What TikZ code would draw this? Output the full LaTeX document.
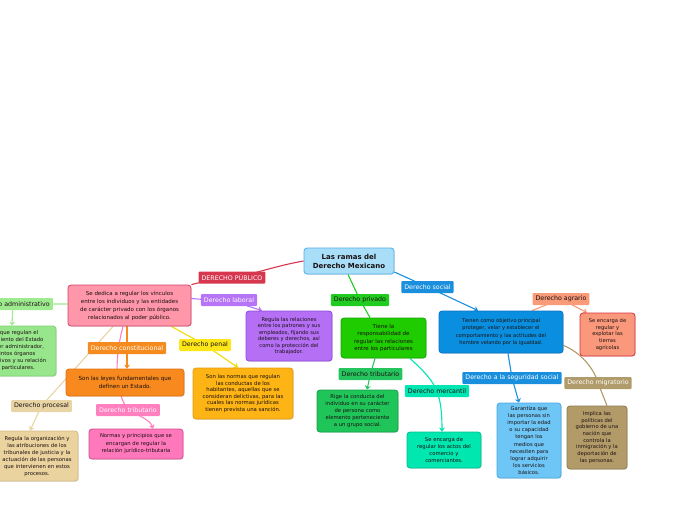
\documentclass[tikz,border=0pt]{standalone}
\usepackage{fontspec}
\setmainfont{DejaVu Sans}
\usetikzlibrary{arrows.meta,shadows}
\pgfdeclarelayer{bg}
\pgfsetlayers{bg,main}
\definecolor{rootf}{HTML}{A9DEF9}\definecolor{rootd}{HTML}{4FAEEA}
\definecolor{pubc}{HTML}{D7364F}
\definecolor{pinkf}{HTML}{FF96A9}\definecolor{pinkd}{HTML}{D2456A}
\definecolor{purc}{HTML}{B774F7}\definecolor{purf}{HTML}{B46FF5}\definecolor{purd}{HTML}{8F4BD6}
\definecolor{yelc}{HTML}{FFE619}\definecolor{yell}{HTML}{F2DC00}\definecolor{penf}{HTML}{FDB414}\definecolor{pend}{HTML}{E49C10}
\definecolor{orac}{HTML}{F58B1F}\definecolor{oraf}{HTML}{F7891F}\definecolor{orad}{HTML}{E07010}
\definecolor{hpc}{HTML}{FF7FBF}\definecolor{hpf}{HTML}{FF78BC}\definecolor{hpd}{HTML}{D04C8E}
\definecolor{admc}{HTML}{9EEA8F}\definecolor{admf}{HTML}{98E68C}\definecolor{admd}{HTML}{7ED072}
\definecolor{proc}{HTML}{E8D4A4}\definecolor{prof}{HTML}{EBD39F}\definecolor{prod}{HTML}{D4BA85}
\definecolor{prc}{HTML}{1FCC1F}\definecolor{prf}{HTML}{1FCC00}\definecolor{prd}{HTML}{19A800}
\definecolor{tgc}{HTML}{26C45E}\definecolor{tgf}{HTML}{20C55A}\definecolor{tgd}{HTML}{17A048}
\definecolor{mec}{HTML}{00E6B2}\definecolor{mef}{HTML}{00E8B0}\definecolor{med}{HTML}{00C090}
\definecolor{soc}{HTML}{1A8FDE}\definecolor{sof}{HTML}{0A8FE0}\definecolor{sod}{HTML}{0A70C0}
\definecolor{agc}{HTML}{F99A78}\definecolor{agf}{HTML}{F9987B}\definecolor{agd}{HTML}{D8333F}
\definecolor{sgf}{HTML}{6EC6F6}\definecolor{sgd}{HTML}{4AA8E0}
\definecolor{mic}{HTML}{B09B6A}\definecolor{mif}{HTML}{B39B69}\definecolor{mid}{HTML}{8E7A4E}
\definecolor{txt}{HTML}{1A1010}
\tikzset{
  box/.style={rectangle,rounded corners=3pt,line width=0.8pt,align=center,text=txt,
    font=\fontsize{5.3}{7}\selectfont,inner sep=1pt,
    drop shadow={shadow xshift=0.8pt,shadow yshift=-0.8pt,opacity=0.2}},
  lbl/.style={rectangle,rounded corners=1pt,inner xsep=3pt,inner ysep=0pt,minimum height=12pt,
    font=\fontsize{6.3}{7}\selectfont},
  conn/.style={line width=1.1pt},
  arr/.style={-{Stealth[length=4pt,width=6pt]}}
}
\begin{document}
\begin{tikzpicture}[x=1pt,y=-1pt]
\path[use as bounding box] (0,0) rectangle (696,520);
% main boxes
\node[box,fill=rootf,draw=rootd,minimum width=90pt,minimum height=26pt,font=\bfseries\fontsize{7}{9}\selectfont] (root) at (349,261) {Las ramas del\\Derecho Mexicano};
\node[box,fill=pinkf,draw=pinkd,minimum width=123pt,minimum height=41pt,font=\fontsize{5.5}{8}\selectfont] (pdesc) at (129.5,305.5) {Se dedica a regular los vínculos\\entre los individuos y las entidades\\de carácter privado con los órganos\\relacionados al poder público.};
\node[box,fill=purf,draw=purd,minimum width=86pt,minimum height=50pt,font=\fontsize{5.2}{6.5}\selectfont] (labd) at (289,336) {Regula las relaciones\\entre los patrones y sus\\empleados, fijando sus\\deberes y derechos, así\\como la protección del\\trabajador.};
\node[box,fill=penf,draw=pend,minimum width=100pt,minimum height=51pt,font=\fontsize{5.3}{6.6}\selectfont] (pendesc) at (243,393.5) {Son las normas que regulan\\las conductas de los\\habitantes, aquellas que se\\consideran delictivas, para las\\cuales las normas jurídicas\\tienen prevista una sanción.};
\node[box,fill=oraf,draw=orad,minimum width=118pt,minimum height=27pt,font=\fontsize{5.6}{8}\selectfont] (cond) at (125,382.5) {Son las leyes fundamentales que\\definen un Estado.};
\node[box,fill=hpf,draw=hpd,minimum width=94pt,minimum height=30pt,font=\fontsize{5.3}{7.5}\selectfont] (trib1d) at (136,444) {Normas y principios que se\\encargan de regular la\\relación jurídico-tributaria};
\node[box,fill=admf,draw=admd,minimum width=96pt,minimum height=50pt,font=\fontsize{5.3}{7}\selectfont] (admd) at (8,351) {Normas que regulan el\\funcionamiento del Estado\\como poder administrador,\\los distintos órganos\\administrativos y su relación\\con los particulares.};
\node[box,fill=prof,draw=prod,minimum width=82pt,minimum height=50pt,font=\fontsize{5.3}{7}\selectfont] (procd) at (37,456) {Regula la organización y\\las atribuciones de los\\tribunales de justicia y la\\actuación de las personas\\que intervienen en estos\\procesos.};
\node[box,fill=prf,draw=prd,minimum width=85pt,minimum height=40pt,font=\fontsize{5.5}{7.4}\selectfont] (privd) at (383.5,338) {Tiene la\\responsabilidad de\\regular las relaciones\\entre los particulares};
\node[box,fill=tgf,draw=tgd,minimum width=81pt,minimum height=42pt,font=\fontsize{5.3}{7}\selectfont] (trib2d) at (357.5,411) {Rige la conducta del\\individuo en su carácter\\de persona como\\elemento perteneciente\\a un grupo social.};
\node[box,fill=mef,draw=med,minimum width=74pt,minimum height=36pt,font=\fontsize{5.3}{7}\selectfont] (mercd) at (444,450) {Se encarga de\\regular los actos del\\comercio y\\comerciantes.};
\node[box,fill=sof,draw=sod,minimum width=124pt,minimum height=42pt,font=\fontsize{5.1}{7.3}\selectfont] (socd) at (501,332) {Tienen como objetivo principal\\proteger, velar y establecer el\\comportamiento y las actitudes del\\hombre velando por la igualdad.};
\node[box,fill=agf,draw=agd,minimum width=55pt,minimum height=43pt,font=\fontsize{5.2}{6.8}\selectfont] (agrd) at (607.5,334.5) {Se encarga de\\regular y\\explotar las\\tierras\\agrícolas};
\node[box,fill=sgf,draw=sgd,minimum width=64pt,minimum height=75pt,font=\fontsize{5.2}{7.2}\selectfont] (segd) at (529,440.5) {Garantiza que\\las personas sin\\importar la edad\\o su capacidad\\tengan los\\medios que\\necesiten para\\lograr adquirir\\los servicios\\básicos.};
\node[box,fill=mif,draw=mid,minimum width=60pt,minimum height=63pt,font=\fontsize{5.2}{6.7}\selectfont] (migd) at (597,437.5) {Implica las\\políticas del\\gobierno de una\\nación que\\controla la\\inmigración y la\\deportación de\\las personas.};
% labels
\node[lbl,fill=pubc,text=white] (pub) at (232,277.5) {DERECHO PÚBLICO};
\node[lbl,fill=purc,text=white] (lab) at (229,300) {Derecho laboral};
\node[lbl,fill=yelc,text=txt] (pen) at (205,345) {Derecho penal};
\node[lbl,fill=orac,text=white] (con) at (127,348) {Derecho constitucional};
\node[lbl,fill=hpc,text=white] (trib1) at (128,410) {Derecho tributario};
\node[lbl,fill=admc,text=txt,anchor=east] (adm) at (53,304) {Derecho administrativo};
\node[lbl,fill=proc,text=txt] (proclab) at (41.5,406) {Derecho procesal};
\node[lbl,fill=prc,text=txt] (priv) at (360,300) {Derecho privado};
\node[lbl,fill=tgc,text=txt] (trib2) at (370.5,374) {Derecho tributario};
\node[lbl,fill=mec,text=txt] (merc) at (437,391) {Derecho mercantil};
\node[lbl,fill=soc,text=white] (socl) at (427.5,287) {Derecho social};
\node[lbl,fill=agc,text=txt] (agr) at (561,299) {Derecho agrario};
\node[lbl,fill=soc,text=white] (seg) at (512,378) {Derecho a la seguridad social};
\node[lbl,fill=mic,text=white] (mig) at (598,383) {Derecho migratorio};
% connectors
\begin{pgfonlayer}{bg}
\draw[conn,pubc] (root.west) to[out=190,in=10] (pub.center) to[out=190,in=15] (pdesc.north east);
\draw[conn,purc,arr] ([yshift=7pt]pdesc.east) to[out=-5,in=180] (lab.center) -- (labd.north -| 262,0);
\draw[conn,yell,arr] ([xshift=-20pt]pdesc.south east) -- (pen.center) -- (pendesc.north -| 238,0);
\draw[conn,orac,arr] (pdesc.south -| 127,0) -- (con.center) -- (cond.north -| 127,0);
\draw[conn,hpc,arr] (pdesc.south -| 123,0) .. controls (114,360) and (115,392) .. (trib1.center) .. controls (140,416) and (150,420) .. (trib1d.north -| 153,0);
\draw[conn,admc,arr] (pdesc.west |- 0,304) -- (adm.center) -- (admd.north -| 12,0);
\draw[conn,proc,arr] (pdesc.south -| 113,0) -- (proclab.center) -- (procd.north -| 30,0);
\draw[conn,prc] (root.south -| 348,0) -- (priv.center) -- (privd.north -| 370,0);
\draw[conn,tgc,arr] (privd.south -| 375,0) -- (trib2.center) -- (trib2d.north -| 367,0);
\draw[conn,mec,arr] (privd.south -| 410,0) .. controls (425,372) and (432,380) .. (merc.center) .. controls (441,402) and (442,415) .. (mercd.north -| 442,0);
\draw[conn,soc,arr] (root.east |- 0,272) -- (socl.center) -- (socd.north -| 478,0);
\draw[conn,agc,arr] (socd.north -| 532,0) -- (agr.center) -- (agrd.north -| 587,0);
\draw[conn,soc,arr] (socd.south -| 508,0) -- (seg.center) -- (segd.north -| 519,0);
\draw[conn,mic] ([yshift=8pt]socd.south east) .. controls (580,352) and (594,368) .. (mig.center) -- (migd.north -| 607,0);
\end{pgfonlayer}
\end{tikzpicture}
\end{document}
